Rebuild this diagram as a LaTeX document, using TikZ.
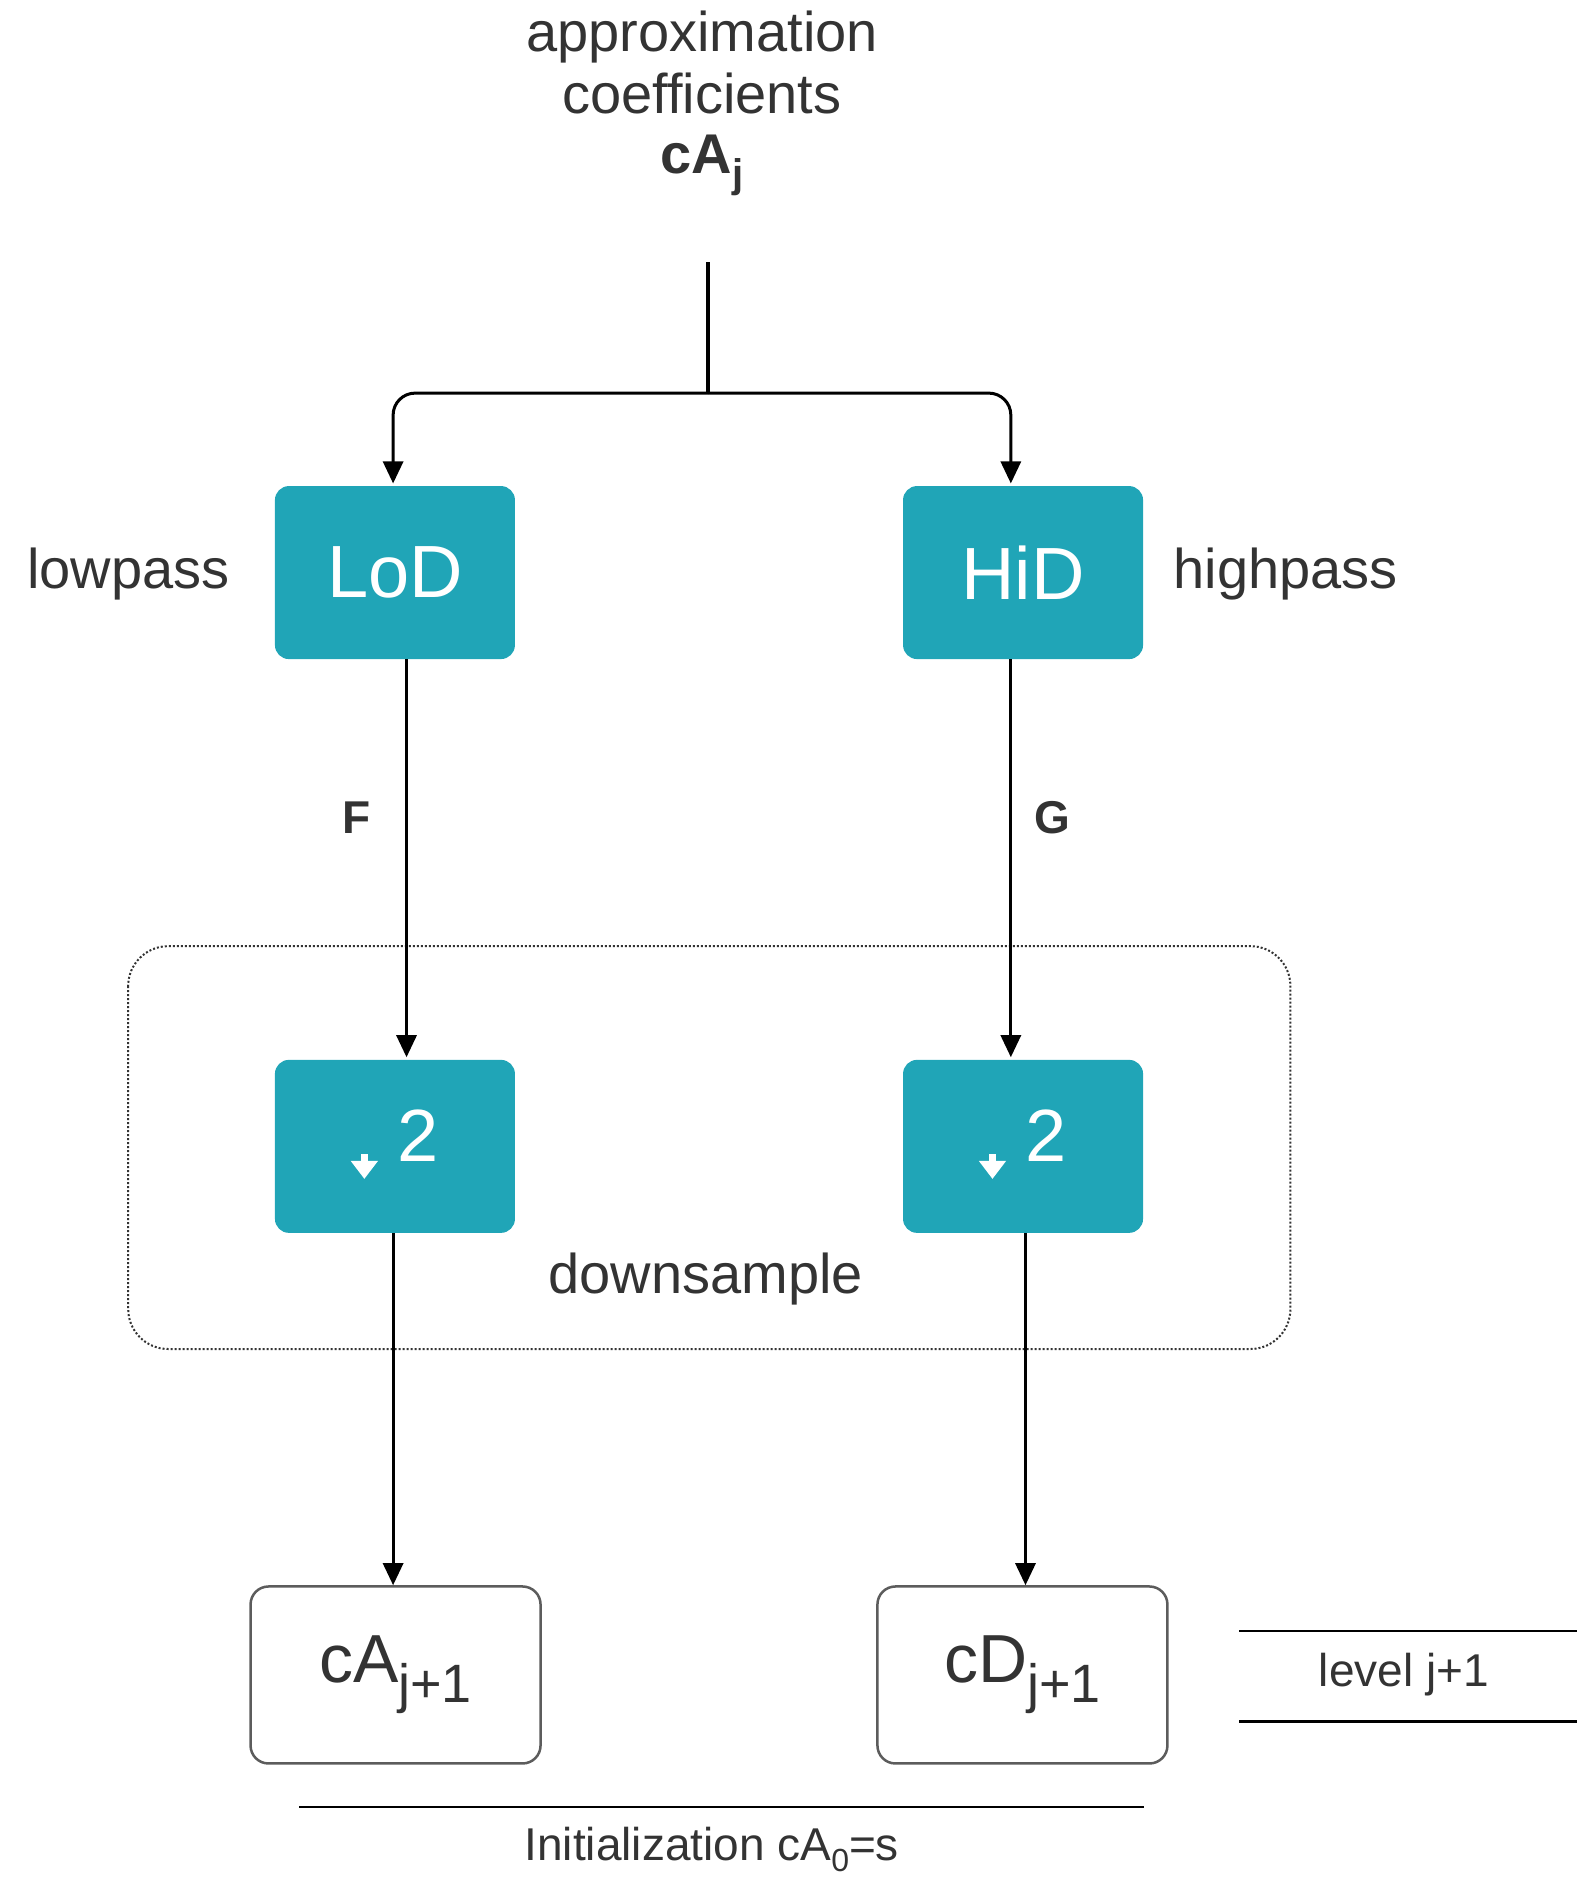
\documentclass[tikz,border=0pt]{standalone}
\usepackage{fontspec}
\setmainfont{Liberation Sans}
\usetikzlibrary{arrows.meta}
\definecolor{teal1}{HTML}{20A5B7}
\definecolor{txt}{HTML}{333333}
\begin{document}
\begin{tikzpicture}[x=1.2208pt,y=-1.2208pt,
  lbl/.style={text=txt,font=\fontsize{56}{64}\selectfont,inner sep=0},
  filt/.style={draw=none,fill=teal1,rounded corners=14pt,minimum width=240pt,minimum height=173pt,text=white,font=\fontsize{74}{80}\selectfont,inner sep=0},
  res/.style={draw=txt!80,line width=2.5pt,fill=white,rounded corners=18pt,minimum width=290pt,minimum height=177pt,text=txt,font=\fontsize{68}{74}\selectfont,inner sep=0},
  arr/.style={line width=3pt,-{Triangle[length=22pt,width=20pt]}},
  hl/.style={line width=2.5pt,draw=black}]
\useasboundingbox (0,0) rectangle (1300,1550.6);
\node[lbl,align=center] (title) at (575,85) {approximation\\[-2pt]coefficients\\[-4pt]\textbf{cA\raisebox{-0.25em}{\fontsize{40}{44}\selectfont j}}};
\coordinate (top) at (580,215);
\coordinate (split) at (580,322);
\node[filt] (lod) at (323.5,469) {LoD};
\node[filt] (hid) at (838,469) {HiD};
\node[lbl,anchor=center] (lp) at (105,470) {lowpass};
\node[lbl,anchor=center] (hp) at (1053,470) {highpass};
\draw[line width=3.5pt] (top) -- (split);
\draw[arr,rounded corners=22pt] (split) -- (322,322) -- (322,396);
\draw[arr,rounded corners=22pt] (split) -- (828,322) -- (828,396);
\draw[rounded corners=40pt,dotted,line width=2pt,draw=txt] (105,775) rectangle (1057,1105);
\node[filt] (d1) at (323.5,939) {\tikz[baseline=-6pt]\draw[white,line width=7pt,-{Triangle[length=18pt,width=26pt]}] (0,1.5pt) -- (0,-23pt);\hspace{20pt}2};
\node[filt] (d2) at (838,939) {\tikz[baseline=-6pt]\draw[white,line width=7pt,-{Triangle[length=18pt,width=26pt]}] (0,1.5pt) -- (0,-23pt);\hspace{20pt}2};
\node[lbl] (ds) at (578,1048) {downsample};
\draw[arr] (333,540) -- (333,866);
\draw[arr] (828,540) -- (828,866);
\node[lbl,font=\bfseries\fontsize{46}{50}\selectfont] (F) at (292,670) {F};
\node[lbl,font=\bfseries\fontsize{46}{50}\selectfont] (G) at (862,670) {G};
\node[res] (ca) at (324,1372) {cA\raisebox{-0.3em}{\fontsize{54}{58}\selectfont j+1}};
\node[res] (cd) at (837.5,1372) {cD\raisebox{-0.3em}{\fontsize{54}{58}\selectfont j+1}};
\draw[arr] (322,1010) -- (ca.north -| 322,0);
\draw[arr] (840,1010) -- (cd.north -| 840,0);
\draw[hl] (1015,1336) -- (1292,1336);
\draw[hl] (1015,1410) -- (1292,1410);
\node[lbl,font=\fontsize{46}{50}\selectfont] (lev) at (1150,1372) {level j+1};
\draw[hl] (245,1480) -- (937,1480);
\draw[hl] (245,1553) -- (937,1553);
\node[lbl,font=\fontsize{46}{50}\selectfont] (init) at (583,1515) {Initialization cA\raisebox{-0.25em}{\fontsize{32}{36}\selectfont 0}=s};
\end{tikzpicture}
\end{document}
